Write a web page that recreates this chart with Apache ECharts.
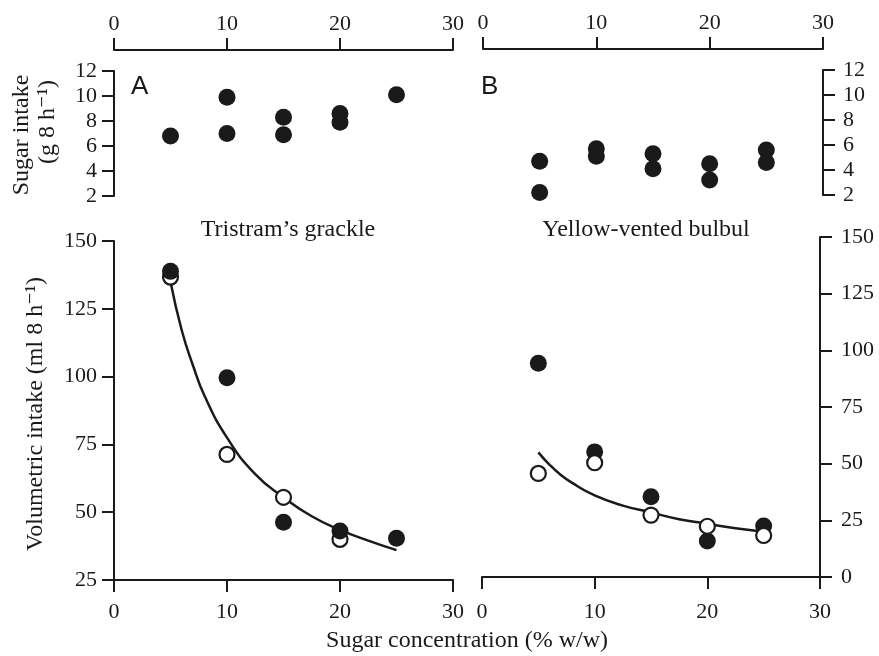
<!DOCTYPE html>
<html>
<head>
<meta charset="utf-8">
<script src="https://cdn.jsdelivr.net/npm/echarts@6/dist/echarts.min.js"></script>
<style>
  html, body { margin: 0; background: #fff; }
  #main { width: 879px; height: 656px; }
</style>
</head>
<body>
<div id="main"></div>
<script>
// sugar concentration (% w/w) on every x axis
const xTicks = [0, 10, 20, 30];

// A / B top panels: sugar intake (g 8 h-1), two birds per concentration
const grackleSugar = [[5, 6.8], [10, 9.9], [10, 7.0], [15, 8.3], [15, 6.9], [20, 8.6], [20, 7.9], [25, 10.1]];
const bulbulSugar = [[5, 4.7], [5, 2.2], [10, 5.7], [10, 5.1], [15, 5.3], [15, 4.1], [20, 4.5], [20, 3.2], [25, 5.6], [25, 4.6]];

// bottom panels: volumetric intake (ml 8 h-1)
const grackleFilled = [[5, 138.8], [10, 99.6], [15, 46.3], [20, 43.1], [25, 40.4]];
const grackleOpen = [[5, 136.7], [10, 71.3], [15, 55.5], [20, 40.0]];
const bulbulFilled = [[5, 94.3], [10, 55.2], [15, 35.4], [20, 15.9], [25, 22.5]];
const bulbulOpen = [[5, 45.7], [10, 50.4], [15, 27.3], [20, 22.4], [25, 18.3]];

// fitted curves
const fitX = [5, 6, 7, 8, 10, 12.5, 15, 17.5, 20, 22.5, 25];
const grackleFit = [135, 117, 104, 93, 77.5, 64, 55.5, 48.5, 43.5, 39.5, 36];
const bulbulFit = [55, 49.5, 45, 41.5, 36, 31.5, 28.5, 25.5, 23.5, 21.5, 20];

const ink = '#1a1a1a';
const serif = '"Liberation Serif", "DejaVu Serif", serif';

const chart = echarts.init(document.getElementById('main'));

function xAxis(grid, pos, margin) {
  return {
    type: 'value', gridIndex: grid, position: pos,
    offset: pos === 'top' ? 21 : 0,
    min: xTicks[0], max: xTicks[xTicks.length - 1], interval: 10,
    axisLine: { show: true, onZero: false, lineStyle: { color: ink, width: 2 } },
    axisTick: { show: true, length: 12, lineStyle: { color: ink, width: 2 } },
    axisLabel: { color: ink, fontSize: 22, fontFamily: serif, margin: margin },
    splitLine: { show: false }
  };
}
function yAxis(grid, pos, min, max, step, margin) {
  return {
    type: 'value', gridIndex: grid, position: pos,
    min: min, max: max, interval: step,
    axisLine: { show: true, onZero: false, lineStyle: { color: ink, width: 2 } },
    axisTick: { show: true, length: 12, lineStyle: { color: ink, width: 2 } },
    axisLabel: { color: ink, fontSize: 22, fontFamily: serif, margin: margin },
    splitLine: { show: false }
  };
}
function dots(i, data, open, z) {
  return {
    type: 'scatter', xAxisIndex: i, yAxisIndex: i, data: data,
    symbol: 'circle', symbolSize: open ? 15 : 17, z: z,
    itemStyle: open ? { color: '#fff', borderColor: ink, borderWidth: 2.2, opacity: 1 }
                    : { color: ink, opacity: 1 }
  };
}
function fit(i, ys) {
  return {
    type: 'line', xAxisIndex: i, yAxisIndex: i,
    data: fitX.map((x, k) => [x, ys[k]]),
    smooth: true, showSymbol: false, z: 1,
    lineStyle: { color: ink, width: 2.5 }
  };
}
function label(text, x, y, rot) {
  return {
    type: 'text', x: x, y: y, rotation: rot || 0,
    style: { text: text, fill: ink, font: '24px ' + serif, textAlign: 'center', textVerticalAlign: 'middle' }
  };
}

chart.setOption({
  animation: false,
  backgroundColor: '#fff',
  grid: [
    { left: 114, top: 71, width: 339, height: 125 },
    { left: 483, top: 70, width: 340, height: 125 },
    { left: 114, top: 241, width: 339, height: 339 },
    { left: 482, top: 237, width: 338, height: 340 }
  ],
  xAxis: [xAxis(0, 'top', 15), xAxis(1, 'top', 15), xAxis(2, 'bottom', 21), xAxis(3, 'bottom', 24)],
  yAxis: [
    yAxis(0, 'left', 2, 12, 2, 17),
    yAxis(1, 'right', 2, 12, 2, 20),
    yAxis(2, 'left', 25, 150, 25, 17),
    yAxis(3, 'right', 0, 150, 25, 21)
  ],
  series: [
    dots(0, grackleSugar, false, 3),
    dots(1, bulbulSugar, false, 3),
    fit(2, grackleFit),
    dots(2, grackleOpen, true, 2),
    dots(2, grackleFilled, false, 3),
    fit(3, bulbulFit),
    dots(3, bulbulFilled, false, 2),
    dots(3, bulbulOpen, true, 3)
  ],
  graphic: [
    { type: 'text', x: 131, y: 74, style: { text: 'A', fill: ink, font: '26px "Liberation Sans", Arial, sans-serif' } },
    { type: 'text', x: 481, y: 74, style: { text: 'B', fill: ink, font: '26px "Liberation Sans", Arial, sans-serif' } },
    label('Tristram\u2019s grackle', 288, 230),
    label('Yellow-vented bulbul', 646, 230),
    label('Sugar concentration (% w/w)', 467, 641),
    label('Volumetric intake (ml 8 h\u207B\u00B9)', 36, 414, Math.PI / 2),
    label('Sugar intake', 22, 135, Math.PI / 2),
    label('(g 8 h\u207B\u00B9)', 48, 122, Math.PI / 2)
  ]
});
</script>
</body>
</html>
